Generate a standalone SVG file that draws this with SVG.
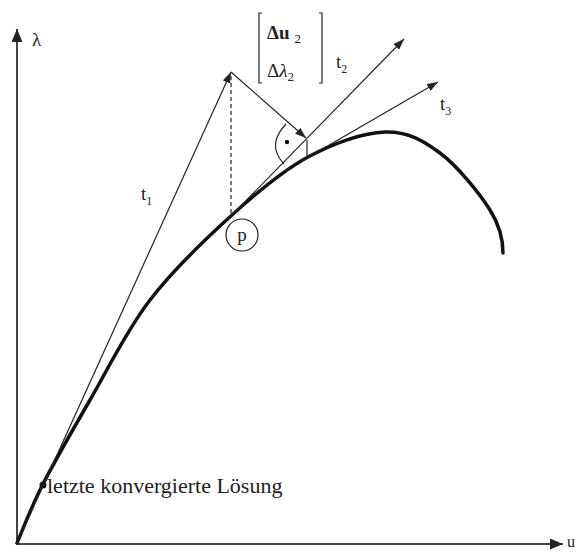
<svg xmlns="http://www.w3.org/2000/svg" width="579" height="552" viewBox="0 0 579 552">
<style>
.ax{stroke:#444;stroke-width:2;fill:none}
.ln{stroke:#222;stroke-width:1.2;fill:none}
.cv{stroke:#111;stroke-width:3.5;fill:none;stroke-linecap:round}
.tx{font-family:"Liberation Serif","Times New Roman",serif;fill:#222}
</style>
<defs>
<marker id="ah" markerUnits="userSpaceOnUse" markerWidth="11" markerHeight="8" refX="11" refY="4" orient="auto"><path d="M0,0 L11,4 L0,8 z" fill="#222"/></marker>
<marker id="axh" markerUnits="userSpaceOnUse" markerWidth="13" markerHeight="11" refX="13" refY="5.5" orient="auto"><path d="M0,0 L13,5.5 L0,11 z" fill="#222"/></marker>
</defs>
<g id="axes">
<line class="ax" x1="17" y1="544" x2="17" y2="29" marker-end="url(#axh)"/>
<line class="ax" x1="16" y1="544" x2="563" y2="544" marker-end="url(#axh)"/>
<text class="tx" x="32" y="46" font-size="19">λ</text>
<text class="tx" x="567" y="547" font-size="16">u</text>
</g>
<g id="curve">
<path class="cv" d="M17,543 C21.3,533.2 30.8,507.8 43,484 C55.2,460.2 72.2,430.7 90,400 C107.8,369.3 126.3,330.8 150,300 C173.7,269.2 205.7,238.8 232,215 C258.3,191.2 282.5,170.8 308,157 C333.5,143.2 363,132.7 385,132 C407,131.3 422.5,140 440,153 C457.5,166 479.5,193.3 490,210 C500.5,226.7 503,240 503,253"/>
<circle cx="43" cy="485" r="3.5" fill="#111"/>
</g>
<g id="connectors">
<line class="ln" x1="17" y1="543" x2="231" y2="72" marker-end="url(#ah)"/>
<line class="ln" x1="231" y1="76" x2="231" y2="215" stroke-dasharray="4,3"/>
<line class="ln" x1="231" y1="72" x2="306" y2="138" marker-end="url(#ah)"/>
<line class="ln" x1="232" y1="215" x2="404" y2="39" marker-end="url(#ah)"/>
<line class="ln" x1="300" y1="162" x2="438" y2="82" marker-end="url(#ah)"/>
<line class="ln" x1="307" y1="140" x2="307" y2="157"/>
<path class="ln" d="M286,124 Q266,145 284,164"/>
<circle cx="287" cy="142" r="2.2" fill="#111"/>
</g>
<g id="labels">
<text class="tx" x="141" y="200" font-size="19">t<tspan font-size="12" dy="5">1</tspan></text>
<text class="tx" x="336" y="68" font-size="19">t<tspan font-size="12" dy="5">2</tspan></text>
<text class="tx" x="440" y="110" font-size="19">t<tspan font-size="12" dy="5">3</tspan></text>
<text class="tx" x="47" y="493" font-size="22">letzte konvergierte Lösung</text>
</g>
<g id="p">
<circle cx="242" cy="235" r="16" fill="none" stroke="#222" stroke-width="1.2"/>
<text class="tx" x="242" y="241" font-size="19" text-anchor="middle">p</text>
</g>
<g id="vector">
<path class="ln" d="M262,13 L259,13 L259,83 L262,83"/>
<path class="ln" d="M319,13 L322,13 L322,83 L319,83"/>
<text class="tx" x="267" y="39" font-size="19" font-weight="bold">Δu<tspan font-weight="normal" font-size="13" dx="5" dy="4">2</tspan></text>
<text class="tx" x="267" y="77" font-size="19">Δ<tspan font-style="italic">λ</tspan><tspan font-size="13" dy="4">2</tspan></text>
</g>
</svg>
